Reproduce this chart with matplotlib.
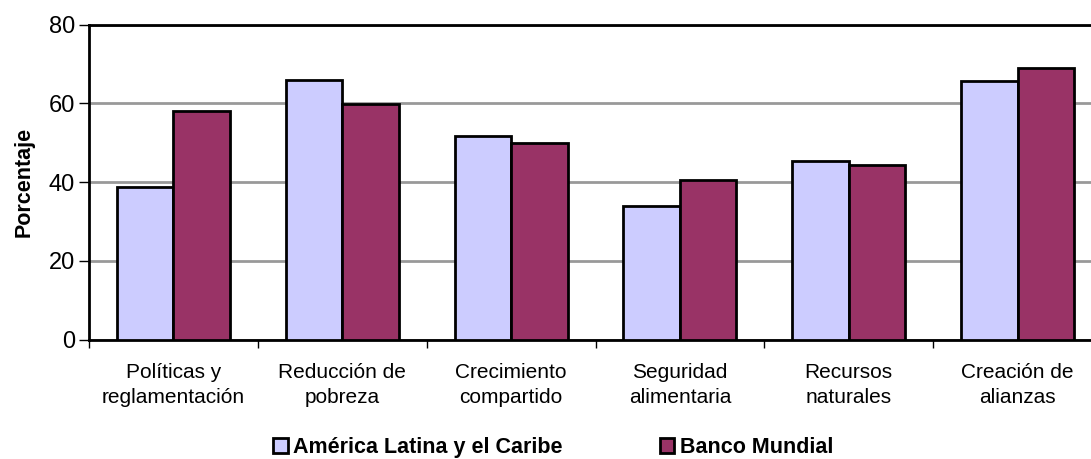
import matplotlib.pyplot as plt
import numpy as np

categorias = ['Políticas y\nreglamentación', 'Reducción de\npobreza', 'Crecimiento\ncompartido',
              'Seguridad\nalimentaria', 'Recursos\nnaturales', 'Creación de\nalianzas']
alc = [38.8, 66.0, 51.6, 33.8, 45.3, 65.7]
bm = [58.0, 59.7, 49.8, 40.5, 44.4, 69.0]
series = ['América Latina y el Caribe', 'Banco Mundial']
colores = ['#CCCCFF', '#993366']

plt.rcParams['font.family'] = ['Liberation Sans', 'DejaVu Sans']

fig = plt.figure(figsize=(10.91, 4.59), dpi=100)
ax = fig.add_axes([0.0816, 0.2603, 0.9285, 0.6863])

x = np.arange(len(categorias))
w = 0.335
b1 = ax.bar(x - w / 2, alc, w, color=colores[0], edgecolor='black', linewidth=2, zorder=3)
b2 = ax.bar(x + w / 2, bm, w, color=colores[1], edgecolor='black', linewidth=2, zorder=3)

ax.set_ylim(0, 80)
ax.set_xlim(-0.5, len(categorias) - 0.5)
ax.set_yticks([0, 20, 40, 60, 80])
ax.tick_params(axis='y', labelsize=17, length=7, width=1, pad=3)
ax.yaxis.grid(True, color='#999999', linewidth=2, zorder=0)

ax.set_xticks(x)
ax.set_xticklabels(categorias, fontsize=15, linespacing=1.4)
ax.tick_params(axis='x', which='major', length=0, pad=17)
ax.set_xticks(np.arange(-0.5, len(categorias), 1), minor=True)
ax.tick_params(axis='x', which='minor', length=6, width=1)

for s in ['left', 'bottom', 'top']:
    ax.spines[s].set_linewidth(2)
ax.spines['right'].set_visible(False)

ax.set_ylabel('Porcentaje', fontsize=15.5, fontweight='bold', labelpad=10)

leg = fig.legend([b1, b2], series, loc='center', bbox_to_anchor=(0.507, 0.025), ncol=2,
                 frameon=False, prop={'size': 15.5, 'weight': 'bold'},
                 handlelength=0.68, handleheight=0.68, handletextpad=0.25, columnspacing=4.5,
                 borderpad=0.1)
for h in leg.legend_handles:
    h.set_linewidth(2)

fig.savefig('out.png', dpi=100)
